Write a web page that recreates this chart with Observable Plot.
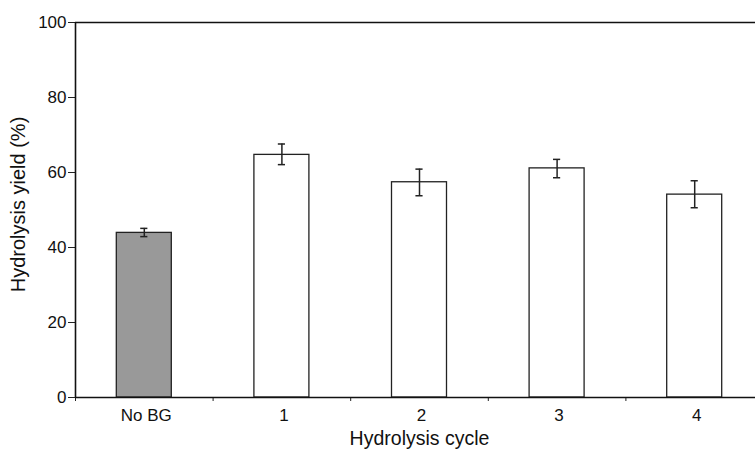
<!DOCTYPE html>
<html>
<head>
<meta charset="utf-8">
<script src="https://cdn.jsdelivr.net/npm/d3@7"></script>
<script src="https://cdn.jsdelivr.net/npm/@observablehq/plot@0.6"></script>
<style>
  html, body { margin: 0; padding: 0; background: #fff; }
</style>
</head>
<body>
<div id="chart"></div>
<script>
const categories = ["No BG", "1", "2", "3", "4"];
const yields = [43.9, 64.7, 57.4, 61.1, 54.1];
const errLow = [42.9, 62.1, 53.8, 58.6, 50.6];
const errHigh = [45.1, 67.6, 60.9, 63.5, 57.8];
const fills = ["#999999", "#ffffff", "#ffffff", "#ffffff", "#ffffff"];
const yTicks = [0, 20, 40, 60, 80, 100];

const data = categories.map((c, i) => ({
  cat: c, i, center: i + 0.5, y: yields[i], lo: errLow[i], hi: errHigh[i], fill: fills[i]
}));

const font = "'Liberation Sans', Arial, Helvetica, sans-serif";

const chart = Plot.plot({
  width: 755,
  height: 450,
  marginLeft: 75,
  marginRight: 0,
  marginTop: 22,
  marginBottom: 53,
  style: { fontFamily: font, fontSize: "17px", color: "#111", background: "#fff" },
  x: { type: "linear", domain: [0, 5], range: [75, 763] },
  y: { domain: [0, 100] },
  marks: [
    Plot.rectY(data, {
      x1: "i", x2: d => d.i + 1, y1: 0, y2: "y",
      insetLeft: 41.3, insetRight: 41.3,
      fill: "fill", stroke: "#222", strokeWidth: 1.3
    }),
    Plot.ruleX(data, { x: "center", y1: "lo", y2: "hi", stroke: "#222", strokeWidth: 1.5 }),
    Plot.ruleY(data, { y: "hi", x1: d => d.center - 0.026, x2: d => d.center + 0.026, stroke: "#222", strokeWidth: 1.5 }),
    Plot.ruleY(data, { y: "lo", x1: d => d.center - 0.026, x2: d => d.center + 0.026, stroke: "#222", strokeWidth: 1.5 }),
    Plot.axisY({ ticks: yTicks, tickSize: 7, tickPadding: 2, label: null, fontSize: 17, stroke: "#222" }),
    Plot.axisX({ ticks: [0, 1, 2, 3, 4], tickSize: 4, tickFormat: () => "", label: null, stroke: "#222" }),
    Plot.axisX({ ticks: data.map(d => d.center), tickSize: 0, tickPadding: 11,
      tickFormat: v => categories[Math.floor(v)], label: null, fontSize: 17, dx: 2 }),
    Plot.ruleX([0], { stroke: "#111", strokeWidth: 1.6 }),
    Plot.ruleY([0], { stroke: "#111", strokeWidth: 1.6 }),
    Plot.ruleY([100], { stroke: "#111", strokeWidth: 1.6 }),
    Plot.text(["Hydrolysis yield (%)"], { frameAnchor: "left", textAnchor: "middle", lineAnchor: "middle",
      rotate: -90, dx: -57, dy: -5.5, fontSize: 20, fill: "#111" }),
    Plot.text(["Hydrolysis cycle"], { frameAnchor: "bottom", textAnchor: "middle", lineAnchor: "middle",
      dy: 41, dx: 4, fontSize: 19.5, fill: "#111" })
  ]
});

document.getElementById("chart").appendChild(chart);
</script>
</body>
</html>
